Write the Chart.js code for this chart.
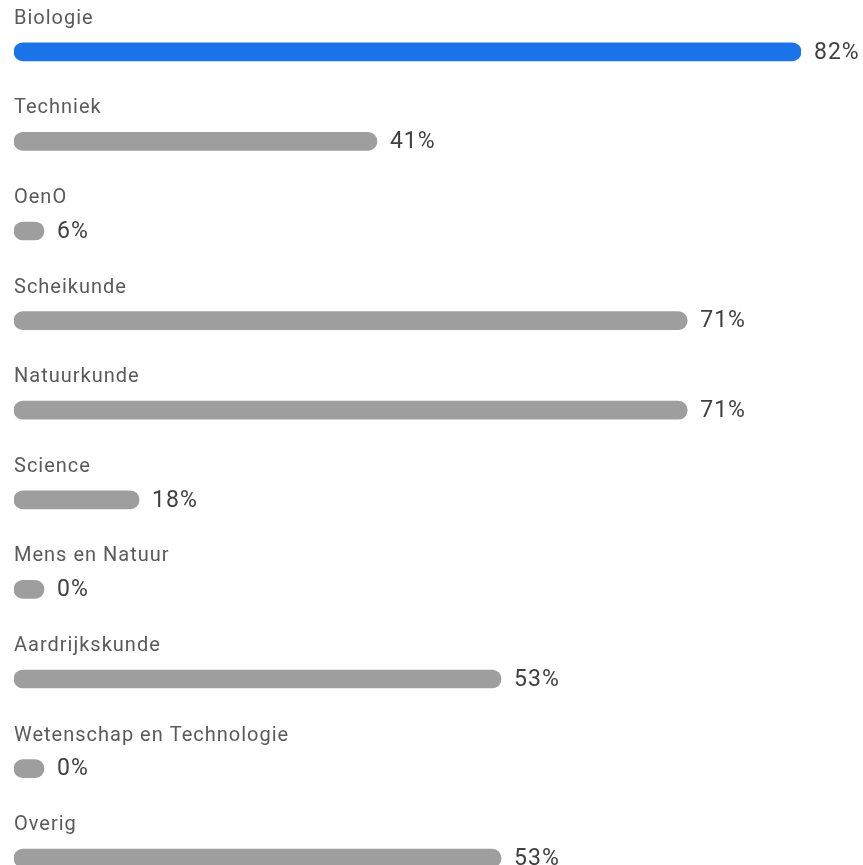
<!DOCTYPE html>
<html>
<head>
<meta charset="utf-8">
<script src="https://cdn.jsdelivr.net/npm/chart.js@4/dist/chart.umd.min.js"></script>
<style>
  html, body { margin: 0; padding: 0; background: #fff; overflow: hidden; }
  #wrap { width: 863px; height: 865px; overflow: hidden; }
</style>
</head>
<body>
<div id="wrap"><canvas id="myChart" width="863" height="903"></canvas></div>
<script>
const subjects = ['Biologie', 'Techniek', 'OenO', 'Scheikunde', 'Natuurkunde',
    'Science', 'Mens en Natuur', 'Aardrijkskunde', 'Wetenschap en Technologie', 'Overig'];
const percentages = [82, 41, 6, 71, 71, 18, 0, 53, 0, 53];
const barColors = ['#1a73e8', '#9e9e9e', '#9e9e9e', '#9e9e9e', '#9e9e9e',
    '#9e9e9e', '#9e9e9e', '#9e9e9e', '#9e9e9e', '#9e9e9e'];

// the bars in the original do not start at zero, small values get a pill of fixed width
const axisMin = 5.91;

const labelPlugin = {
    id: 'rowLabels',
    afterDatasetsDraw(chart) {
        const c = chart.ctx;
        const meta = chart.getDatasetMeta(0);
        c.save();
        meta.data.forEach((bar, i) => {
            c.letterSpacing = '1px';
            c.textBaseline = 'alphabetic';
            c.textAlign = 'left';
            c.fillStyle = '#5a5a5a';
            c.font = '20px Roboto';
            c.fillText(subjects[i], chart.chartArea.left, bar.y - 28);
            c.fillStyle = '#404040';
            c.font = '23px Roboto';
            c.textBaseline = 'middle';
            c.fillText(percentages[i] + '%', bar.x + 13, bar.y + 1);
        });
        c.restore();
    }
};

const ctx = document.getElementById('myChart');

new Chart(ctx, {
    type: 'bar',
    data: {
        labels: subjects,
        datasets: [{
            data: percentages.map(v => [axisMin, Math.max(v, axisMin)]),
            backgroundColor: barColors,
            barThickness: 18,
            borderRadius: 9,
            borderSkipped: false,
            minBarLength: 30
        }]
    },
    options: {
        indexAxis: 'y',
        responsive: false,
        animation: false,
        layout: { padding: { left: 14, right: 62, top: 7, bottom: 0 } },
        plugins: {
            legend: { display: false },
            tooltip: { enabled: false }
        },
        scales: {
            x: { display: false, min: axisMin, max: 82 },
            y: { display: false }
        }
    },
    plugins: [labelPlugin]
});
</script>
</body>
</html>
